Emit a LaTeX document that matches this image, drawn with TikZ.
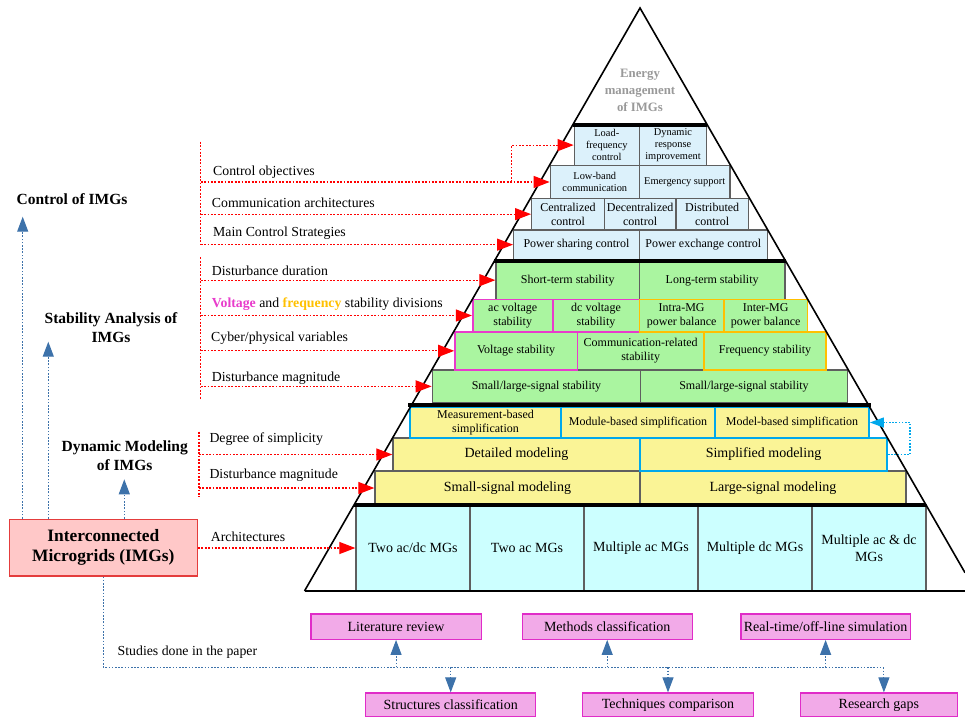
\documentclass[tikz,border=0pt]{standalone}
\usepackage{fontspec}
\setmainfont{Liberation Serif}
\usetikzlibrary{arrows.meta,calc}
\definecolor{ctrlfill}{HTML}{DCF1FB}
\definecolor{stabfill}{HTML}{AAF5A0}
\definecolor{modfill}{HTML}{FAF496}
\definecolor{archfill}{HTML}{CCFFFF}
\definecolor{cellline}{HTML}{5F5F5F}
\definecolor{magline}{HTML}{E83CCB}
\definecolor{orgline}{HTML}{FFC000}
\definecolor{bluline}{HTML}{00A8EC}
\definecolor{imgfill}{HTML}{FFC8C8}
\definecolor{imgline}{HTML}{E43C3C}
\definecolor{studfill}{HTML}{F2AAE8}
\definecolor{studline}{HTML}{E02CC8}
\definecolor{steel}{HTML}{3D72AA}
\definecolor{apexgray}{HTML}{999999}
% \boxat[options]{name}{x1}{y1}{x2}{y2}{text}
\newcommand{\boxat}[7][]{%
  \pgfmathsetmacro\bxc{(#3+#5)/2}\pgfmathsetmacro\byc{(#4+#6)/2}%
  \pgfmathsetmacro\bxw{#5-#3}\pgfmathsetmacro\byh{#6-#4}%
  \node[#1,minimum width=\bxw pt,minimum height=\byh pt] (#2) at (\bxc,\byc) {#7};}
\tikzset{
  cellbox/.style={draw=cellline, line width=1.3pt, inner sep=0pt, align=center, font=\fontsize{12}{14}\selectfont},
  ctrl/.style={cellbox, fill=ctrlfill},
  stab/.style={cellbox, fill=stabfill},
  modl/.style={cellbox, fill=modfill},
  big/.style={font=\fontsize{14}{16.5}\selectfont},
  arch/.style={cellbox, fill=archfill, font=\fontsize{14}{16.7}\selectfont},
  small/.style={font=\fontsize{10.4}{12}\selectfont},
  magb/.style={draw=magline, line width=1.6pt},
  orgb/.style={draw=orgline, line width=1.6pt},
  blub/.style={draw=bluline, line width=1.8pt},
  reddot/.style={draw=red, line width=1.2pt, dash pattern=on 1.8pt off 1.6pt},
  redtip/.style={-{Triangle[length=16pt,width=12pt,fill=red]}},
  bluedot/.style={draw=steel, line width=1.1pt, dash pattern=on 1.6pt off 1.6pt},
  bluetip/.style={-{Triangle[length=15pt,width=11pt,fill=steel]}},
  cyandot/.style={draw=bluline, line width=1.1pt, dash pattern=on 1.6pt off 1.6pt},
  cyantip/.style={-{Triangle[length=14pt,width=10pt,fill=bluline]}},
  lbl/.style={anchor=west, inner sep=0pt, font=\fontsize{13.8}{16}\selectfont},
  head/.style={align=center, inner sep=0pt, font=\bfseries\fontsize{15.5}{18.4}\selectfont},
  imgbox/.style={draw=imgline, fill=imgfill, line width=1.3pt, inner sep=0pt, align=center, font=\bfseries\fontsize{17.4}{20.4}\selectfont},
  stud/.style={draw=studline, fill=studfill, line width=1.2pt, inner sep=0pt, font=\fontsize{14}{16}\selectfont},
  apex/.style={align=center, inner sep=0pt, text=apexgray, font=\bfseries\fontsize{12.8}{17}\selectfont},
  thickline/.style={line width=4pt},
  pyr/.style={line width=1.6pt}
}
\begin{document}
\begin{tikzpicture}[x=1pt,y=-1pt]
\useasboundingbox (0,0) rectangle (965,717);
% ---------- apex
\node[apex] (apexlbl) at (640,90) {Energy\\management\\of IMGs};
% ---------- control rows
\boxat[ctrl,small]{loadfreq}{574.3}{124.5}{639.3}{165.7}{Load-\\frequency\\control}
\boxat[ctrl,small]{dynresp}{639.3}{124.5}{706.7}{165.7}{Dynamic\\response\\improvement}
\boxat[ctrl,small]{lowband}{550.3}{165.7}{639.3}{198.3}{Low-band\\communication}
\boxat[ctrl,small]{emerg}{639.3}{165.7}{730}{198.3}{Emergency support}
\boxat[ctrl]{central}{531.7}{198.3}{604.3}{230}{Centralized\\control}
\boxat[ctrl]{decentral}{604.3}{198.3}{676}{230}{Decentralized\\control}
\boxat[ctrl]{distrib}{676}{198.3}{748.3}{230}{Distributed\\control}
\boxat[ctrl]{powshare}{513.7}{230}{639.3}{259.3}{Power sharing control}
\boxat[ctrl]{powexch}{639.3}{230}{767.3}{259.3}{Power exchange control}
% ---------- stability rows
\boxat[stab]{shortterm}{496}{261}{639.3}{299.3}{Short-term stability}
\boxat[stab]{longterm}{639.3}{261}{785}{299.3}{Long-term stability}
\boxat[stab]{commrel}{577.3}{331.7}{704}{370}{Communication-related\\stability}
\boxat[stab]{smlarge1}{432.3}{370}{640.7}{402.7}{Small/large-signal stability}
\boxat[stab]{smlarge2}{640.7}{370}{847.3}{402.7}{Small/large-signal stability}
\boxat[stab,magb]{acvolt}{472.7}{299.3}{552.7}{331.7}{ac voltage\\stability}
\boxat[stab,magb]{dcvolt}{552.7}{299.3}{639.3}{331.7}{dc voltage\\stability}
\boxat[stab,orgb]{intramg}{639.3}{299.3}{724}{331.7}{Intra-MG\\power balance}
\boxat[stab,orgb]{intermg}{724}{299.3}{807.3}{331.7}{Inter-MG\\power balance}
\boxat[stab,magb]{voltstab}{455}{331.7}{577.3}{370}{Voltage stability}
\boxat[stab,orgb]{freqstab}{704}{331.7}{826}{370}{Frequency stability}
% ---------- modeling rows
\boxat[modl,big]{detailed}{393}{438}{640}{471}{Detailed modeling}
\boxat[modl,big]{smallsig}{375}{471}{640}{505}{Small-signal modeling}
\boxat[modl,big]{largesig}{640}{471}{906}{505}{Large-signal modeling}
\boxat[modl,blub]{measure}{410}{407}{561}{438}{Measurement-based\\simplification}
\boxat[modl,blub]{module}{561}{407}{715}{438}{Module-based simplification}
\boxat[modl,blub]{model}{715}{407}{869}{438}{Model-based simplification}
\boxat[modl,blub,big]{simp}{640}{438}{887}{471}{Simplified modeling}
% ---------- architecture row
\boxat[arch]{twoacdc}{356}{505}{470}{591}{Two ac/dc MGs}
\boxat[arch]{twoac}{470}{505}{584}{591}{Two ac MGs}
\boxat[arch]{multac}{584}{505}{698}{591}{Multiple ac MGs}
\boxat[arch]{multdc}{698}{505}{812}{591}{Multiple dc MGs}
\boxat[arch]{multacdc}{812}{505}{926}{591}{Multiple ac \& dc\\MGs}
% ---------- thick separators and pyramid
\draw[thickline] (573,124.5) -- (707,124.5);
\draw[thickline] (494,261) -- (786,261);
\draw[thickline] (408,405) -- (871,405);
\draw[thickline] (354,505) -- (926,505);
\draw[pyr] (304.5,591) -- (640,8) -- (965,572.7);
\draw[pyr] (304.5,591) -- (965,591);
% ---------- left headers and IMG box
\node[head] (hctrl) at (72,199) {Control of IMGs};
\node[head] (hstab) at (111,327.5) {Stability Analysis of\\IMGs};
\node[head] (hmod) at (124.7,455.5) {Dynamic Modeling\\of IMGs};
\boxat[imgbox]{img}{9.3}{519.3}{197.3}{576}{Interconnected\\Microgrids (IMGs)}
\coordinate (a1) at (22.7,216.7);
\coordinate (a2) at (48.3,341.7);
\coordinate (a3) at (124.3,479.3);
\draw[bluedot,bluetip] (img.north -| a1) -- (a1);
\draw[bluedot,bluetip] (img.north -| a2) -- (a2);
\draw[bluedot,bluetip] (img.north -| a3) -- (a3);
% ---------- control connectors
\coordinate (cvt) at (200.7,141.7);
\coordinate (cvb) at (200.7,245.3);
\draw[reddot] (cvt) -- (cvb);
\node[lbl] (lobj) at (213,172.3) {Control objectives};
\node[lbl] (lcomm) at (211.7,202.7) {Communication architectures};
\node[lbl] (lmain) at (213,233.3) {Main Control Strategies};
\draw[reddot,redtip] (cvt |- lowband.west) -- (lowband.west);
\coordinate (brx) at (511.7,0);
\draw[reddot,redtip] (brx |- lowband.west) -- (brx |- loadfreq.west) -- (loadfreq.west);
\draw[reddot,redtip] (cvt |- central.west) -- (central.west);
\draw[reddot,redtip] (cvt |- powshare.west) -- (powshare.west);
% ---------- stability connectors
\coordinate (svt) at (200.7,257.3);
\coordinate (svb) at (200.7,400);
\draw[reddot] (svt) -- (svb);
\node[lbl] (ldur) at (211.7,270.7) {Disturbance duration};
\node[lbl] (lvf) at (211.7,304.3) {\textcolor{magline}{\bfseries Voltage} and \textcolor{orgline}{\bfseries frequency} stability divisions};
\node[lbl] (lcyb) at (211,338.3) {Cyber/physical variables};
\node[lbl] (ldmag) at (211.7,378.3) {Disturbance magnitude};
\draw[reddot,redtip] (svt |- shortterm.west) -- (shortterm.west);
\draw[reddot,redtip] (svt |- acvolt.west) -- (acvolt.west);
\draw[reddot,redtip] (svt |- voltstab.west) -- (voltstab.west);
\draw[reddot,redtip] (svt |- smlarge1.west) -- (smlarge1.west);
% ---------- modeling connectors
\coordinate (mvt) at (199,431.7);
\coordinate (mvb) at (199,496.7);
\draw[reddot] (mvt) -- (mvb);
\node[lbl] (ldeg) at (209.3,439.3) {Degree of simplicity};
\node[lbl] (ldmag2) at (209.3,475) {Disturbance magnitude};
\draw[reddot,redtip] (mvt |- detailed.west) -- (detailed.west);
\draw[reddot,redtip] (mvt |- smallsig.west) -- (smallsig.west);
% ---------- architectures connector
\node[lbl] (larch) at (210.7,536.7) {Architectures};
\draw[reddot,redtip] (img.east |- twoacdc.west) -- (twoacdc.west);
% ---------- right simplification connector
\coordinate (rbx) at (910,0);
\draw[cyandot,cyantip] (simp.east) -- (simp.east -| rbx) -- (model.east -| rbx) -- (model.east);
% ---------- studies
\boxat[stud]{lit}{310.9}{614}{481.2}{639.3}{Literature review}
\boxat[stud]{meth}{522.3}{614}{692.1}{639.3}{Methods classification}
\boxat[stud]{realt}{741}{614}{910.2}{639.3}{Real-time/off-line simulation}
\boxat[stud]{struct}{365.8}{693}{535.6}{716.5}{Structures classification}
\boxat[stud]{techn}{582.8}{693}{753.2}{716.5}{Techniques comparison}
\boxat[stud]{gaps}{800.3}{693}{957.5}{716.5}{Research gaps}
\node[lbl] (lstud) at (117.5,652.3) {Studies done in the paper};
\coordinate (bl) at (103.3,667.3);
\coordinate (gapin) at ([xshift=5pt]gaps.north);
\draw[bluedot] (img.south -| bl) -- (bl) -- (bl -| gapin);
\draw[bluedot,bluetip] (bl -| lit.south) -- (lit.south);
\draw[bluedot,bluetip] (bl -| meth.south) -- (meth.south);
\draw[bluedot,bluetip] (bl -| realt.south) -- (realt.south);
\draw[bluedot,bluetip] (bl -| struct.north) -- (struct.north);
\draw[bluedot,bluetip] (bl -| techn.north) -- (techn.north);
\draw[bluedot,bluetip] (bl -| gapin) -- (gapin);
\end{tikzpicture}
\end{document}
